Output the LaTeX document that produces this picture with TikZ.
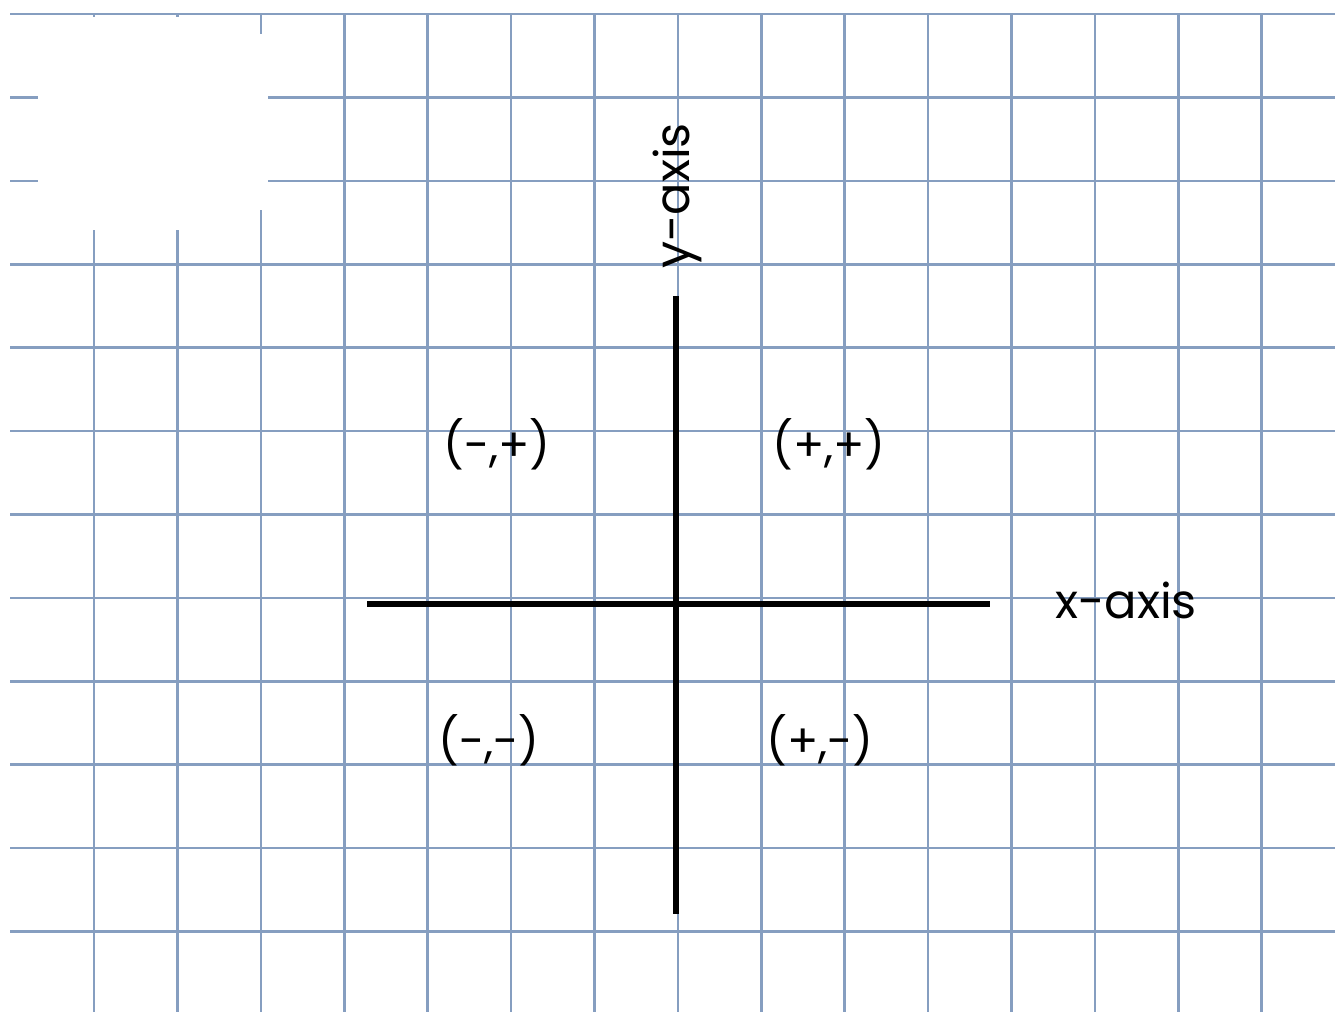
\documentclass[tikz,border=0pt]{standalone}
\usepackage{fontspec}
\setmainfont{Poppins}
\definecolor{gridblue}{RGB}{134,158,192}
\tikzset{
  gridline/.style={draw=gridblue, line width=1.3pt},
  axisline/.style={draw=black, line width=2.6pt},
  quadlabel/.style={font=\fontsize{23}{27}\selectfont, inner sep=0pt},
  axislabel/.style={font=\fontsize{24}{28}\selectfont, inner sep=0pt}
}
\begin{document}
\begin{tikzpicture}[x=0.5pt,y=-0.5pt]
\useasboundingbox (0,0) rectangle (1335,1012);
\fill[white] (0,0) rectangle (1335,1012);
% grid
\foreach \i in {0,...,11} {
  \draw[gridline] (10,{14+83.4*\i}) -- (1335,{14+83.4*\i});
}
\foreach \i in {0,...,14} {
  \draw[gridline] ({94+83.4*\i},14) -- ({94+83.4*\i},1012);
}
% white patch top-left
\fill[white] (38,16.5) rectangle (257,230);
\fill[white] (257,34) rectangle (268,210);
% axes
\coordinate (xl) at (367,604);
\coordinate (xr) at (990,604);
\coordinate (yt) at (676,296);
\coordinate (yb) at (676,914);
\draw[axisline] (xl) -- (xr);
\draw[axisline] (yt) -- (yb);
% labels
\node[axislabel] (xlab) at (1126,600) {x-axis};
\node[axislabel, rotate=90] (ylab) at (677,196) {y-axis};
\node[quadlabel] (q2) at (497,444) {(-,+)};
\node[quadlabel] (q1) at (829,444) {(+,+)};
\node[quadlabel] (q3) at (489,740) {(-,-)};
\node[quadlabel] (q4) at (820,740) {(+,-)};
\end{tikzpicture}
\end{document}
